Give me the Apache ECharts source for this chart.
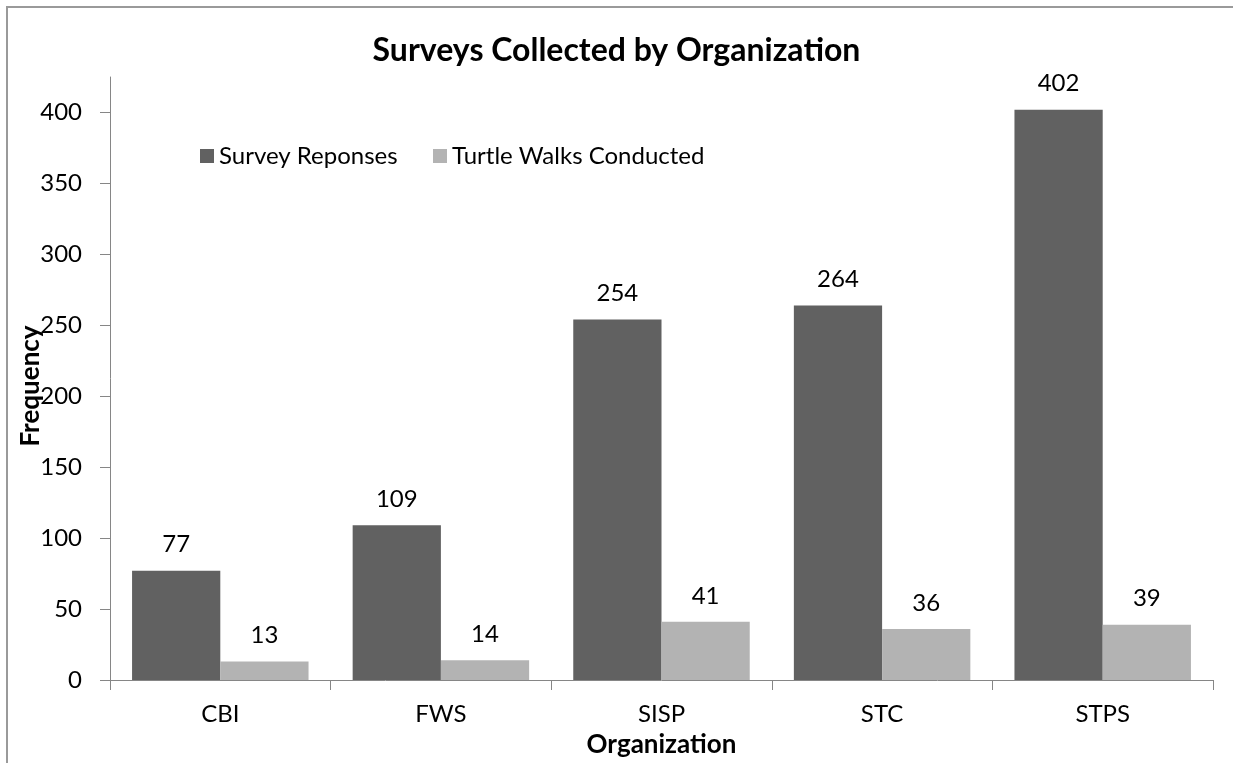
<!DOCTYPE html>
<html>
<head>
<meta charset="utf-8">
<script src="https://cdn.jsdelivr.net/npm/echarts@6/dist/echarts.min.js"></script>
<style>
html,body{margin:0;padding:0;background:#fff;}
#chart{width:1233px;height:763px;}
</style>
</head>
<body>
<div id="chart"></div>
<script>
const categories = ['CBI', 'FWS', 'SISP', 'STC', 'STPS'];
const surveyResponses = [77, 109, 254, 264, 402];
const turtleWalks = [13, 14, 41, 36, 39];
const yTicks = [0, 50, 100, 150, 200, 250, 300, 350, 400];
const yAxisTitle = 'Frequency';

const FONT = 'Lato';
const chart = echarts.init(document.getElementById('chart'));
chart.setOption({
  backgroundColor: '#ffffff',
  animation: false,
  textStyle: { fontFamily: FONT },
  graphic: [{
    type: 'rect',
    shape: { x: 7, y: 7, width: 1400, height: 1000 },
    style: { fill: 'none', stroke: '#9a9a9a', lineWidth: 2 },
    silent: true
  }, {
    type: 'text',
    x: 31,
    y: 386,
    rotation: Math.PI / 2,
    z: 100,
    style: {
      text: yAxisTitle,
      fontFamily: FONT,
      fontSize: 26,
      fontWeight: 'bold',
      fill: '#000',
      align: 'center',
      verticalAlign: 'middle'
    }
  }],
  title: {
    text: 'Surveys Collected by Organization',
    left: 'center',
    top: 30,
    textStyle: { fontFamily: FONT, fontSize: 32, fontWeight: 'bold', color: '#000' }
  },
  legend: [{
    data: ['Survey Reponses'],
    left: 195, top: 139,
    icon: 'rect', itemWidth: 14, itemHeight: 14,
    textStyle: { fontFamily: FONT, fontSize: 24, color: '#000' }
  }, {
    data: ['Turtle Walks Conducted'],
    left: 428, top: 139,
    icon: 'rect', itemWidth: 14, itemHeight: 14,
    textStyle: { fontFamily: FONT, fontSize: 24, color: '#000' }
  }],
  grid: { left: 110, right: 20, top: 77, bottom: 80, containLabel: false },
  xAxis: {
    type: 'category',
    data: categories,
    name: 'Organization',
    nameLocation: 'middle',
    nameGap: 52,
    nameTextStyle: { fontFamily: FONT, fontSize: 26, fontWeight: 'bold', color: '#000' },
    axisLine: { lineStyle: { color: '#868686', width: 1 } },
    axisTick: { show: true, length: 10, lineStyle: { color: '#868686' } },
    axisLabel: { fontFamily: FONT, fontSize: 24, color: '#000', margin: 22 }
  },
  yAxis: {
    type: 'value',
    min: 0,
    max: 425,
    interval: 50,
    axisLine: { show: true, lineStyle: { color: '#868686', width: 1 } },
    axisTick: { show: true, length: 10, lineStyle: { color: '#868686' }, customValues: yTicks },
    axisLabel: { fontFamily: FONT, fontSize: 24, color: '#000', margin: 28, customValues: yTicks },
    splitLine: { show: false }
  },
  series: [{
    name: 'Survey Reponses',
    type: 'bar',
    data: surveyResponses,
    barGap: '0%',
    barCategoryGap: '20%',
    itemStyle: { color: '#616161' },
    label: { show: true, position: 'top', distance: 14, fontFamily: FONT, fontSize: 24, color: '#000' }
  }, {
    name: 'Turtle Walks Conducted',
    type: 'bar',
    data: turtleWalks,
    barGap: '0%',
    barCategoryGap: '20%',
    itemStyle: { color: '#b3b3b3' },
    label: { show: true, position: 'top', distance: 14, fontFamily: FONT, fontSize: 24, color: '#000' }
  }]
});
</script>
</body>
</html>
